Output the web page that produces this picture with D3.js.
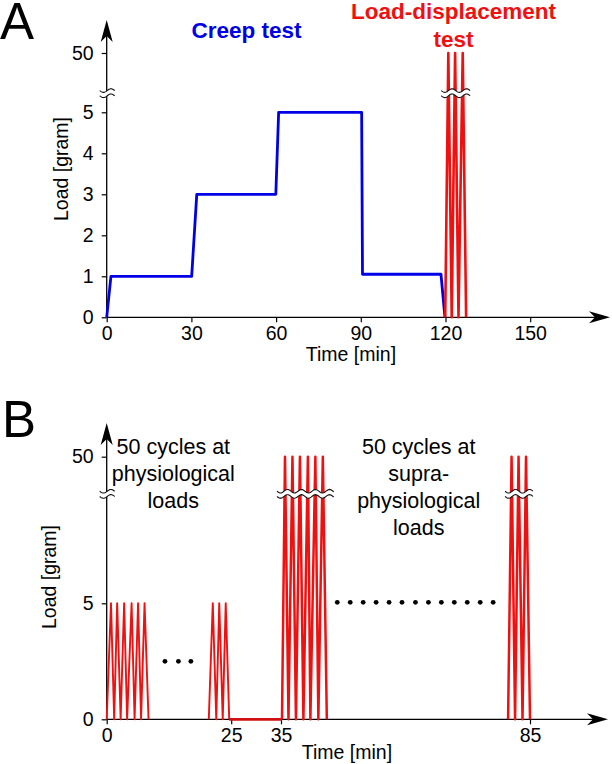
<!DOCTYPE html>
<html><head><meta charset="utf-8">
<script src="https://cdn.jsdelivr.net/npm/d3@7"></script>
<style>body{margin:0;background:#fff} svg{display:block} text{font-family:"Liberation Sans",Arial,sans-serif}</style>
</head><body><svg id="c" width="612" height="764"></svg>
<script>
// ---------- Panel A data ----------
const creepTime = [0, 1.5, 30.1, 31.9, 59.9, 60.9, 90.3, 90.6, 118.4, 119.8];
const creepLoad = [0, 1, 1, 3, 3, 5, 5, 1.05, 1.05, 0];
const ldTimeA = [119.9, 121.0, 122.2, 123.4, 124.6, 126.1, 127.3];
const ldLoadA = [0, 50, 0, 50, 0, 50, 0];
const xTicksA = [0, 30, 60, 90, 120, 150];
const yTicksA = [0, 1, 2, 3, 4, 5, 50];
const breakLoadA = 19.5;

// ---------- Panel B data ----------
const physTime1 = [0, 0.86, 1.5, 2.1, 2.8, 3.5, 4.1, 5.0, 5.6, 6.3, 6.9, 7.6, 8.4];
const physLoad1 = [0, 5, 0, 5, 0, 5, 0, 5, 0, 5, 0, 5, 0];
const physTime2 = [20.5, 21.3, 22.0, 22.6, 23.3, 23.9, 24.6];
const physLoad2 = [0, 5, 0, 5, 0, 5, 0];
const restTime = [24.6, 35.2];
const restLoad = [0, 0];
const supraTime1 = [35.2, 35.8, 36.5, 37.3, 38.0, 38.8, 39.5, 40.4, 40.9, 41.9, 42.5, 43.4, 44.2];
const supraLoad1 = [0, 50, 0, 50, 0, 50, 0, 50, 0, 50, 0, 50, 0];
const supraTime2 = [80.6, 81.3, 82.0, 82.7, 83.5, 84.2, 85.0];
const supraLoad2 = [0, 50, 0, 50, 0, 50, 0];
const dotsTime1 = [11.7, 14.4, 16.9];
const dotsLoad1 = [2.5, 2.5, 2.5];
const dotsTime2 = [46.3, 48.9, 51.5, 54.1, 56.7, 59.3, 62.0, 64.6, 67.2, 69.8, 72.4, 75.0, 77.6];
const dotsLoad2 = [5.3, 5.3, 5.3, 5.3, 5.3, 5.3, 5.3, 5.3, 5.3, 5.3, 5.3, 5.3, 5.3];
const xTicksB = [0, 25, 35, 85];
const yTicksB = [0, 5, 50];
const breakLoadB = 38.6;

const BLUE = "#0000e6", RED = "#f01010";
const FS = 19.5;
const svg = d3.select("#c");

function drawLine(g, x, y, ts, ls, color, w) {
  const line = d3.line().x(d => x(d[0])).y(d => y(d[1]));
  g.append("path").attr("d", line(d3.zip(ts, ls)))
    .attr("fill", "none").attr("stroke", color).attr("stroke-width", w)
    .attr("stroke-linejoin", "round").attr("stroke-linecap", "butt");
}

function wavy(g, x0, x1, yc, wl) {
  const n = 40, gap = 2.6, amp = 1.8;
  const up = [], lo = [];
  for (let i = 0; i <= n; i++) {
    const px = x0 + (x1 - x0) * i / n;
    const s = amp * Math.sin(2 * Math.PI * (px - x0) / wl);
    up.push([px, yc - gap + s]);
    lo.push([px, yc + gap + s]);
  }
  const poly = up.concat(lo.slice().reverse());
  g.append("path").attr("d", d3.line()(poly) + "Z").attr("fill", "#fff").attr("stroke", "none");
  [up, lo].forEach(p => g.append("path").attr("d", d3.line()(p))
    .attr("fill", "none").attr("stroke", "#111").attr("stroke-width", 1.1));
}

function arrowUp(g, x, ytip) {
  g.append("path").attr("d", `M${x},${ytip} L${x-6},${ytip+22} L${x},${ytip+16} L${x+6},${ytip+22} Z`).attr("fill", "#000");
}
function arrowRight(g, xtip, y) {
  g.append("path").attr("d", `M${xtip},${y} L${xtip-21},${y-6} L${xtip-15},${y} L${xtip-21},${y+6} Z`).attr("fill", "#000");
}

function axes(g, x, y, xt, yt, yTop, xEnd, brk) {
  const x0 = x.range()[0], y0 = y(0);
  g.append("line").attr("x1", x0).attr("x2", x0).attr("y1", y0).attr("y2", yTop + 10)
    .attr("stroke", "#000").attr("stroke-width", 1.3);
  arrowUp(g, x0, yTop);
  g.append("line").attr("x1", x0).attr("x2", xEnd - 10).attr("y1", y0).attr("y2", y0)
    .attr("stroke", "#000").attr("stroke-width", 1.3);
  arrowRight(g, xEnd, y0);
  const ay = g.append("g").attr("transform", `translate(${x0},0)`)
    .call(d3.axisLeft(y).tickValues(yt).tickSize(5).tickPadding(8).tickFormat(d3.format("d")));
  const ax = g.append("g").attr("transform", `translate(0,${y0})`)
    .call(d3.axisBottom(x).tickValues(xt).tickSize(5).tickPadding(4).tickFormat(d3.format("d")));
  [ay, ax].forEach(a => {
    a.select(".domain").remove();
    a.selectAll("line").attr("stroke", "#000").attr("stroke-width", 1.2);
    a.selectAll("text").attr("font-size", FS).attr("fill", "#000")
      .attr("font-family", '"Liberation Sans",Arial,sans-serif');
  });
  wavy(g, x0 - 7, x0 + 8, y(brk), 15);
}

// ---------- Panel A ----------
const xA = d3.scaleLinear().domain([0, 150]).range([106.7, 530.2]);
const yA = d3.scaleLinear().domain([0, 5, 50]).range([317.3, 112.3, 53]);
const gA = svg.append("g");
axes(gA, xA, yA, xTicksA, yTicksA, 20, 610, breakLoadA);
drawLine(gA, xA, yA, creepTime, creepLoad, BLUE, 2.8);
drawLine(gA, xA, yA, ldTimeA, ldLoadA, RED, 2.6);
wavy(gA, xA(d3.min(ldTimeA)) - 4, xA(d3.max(ldTimeA)) + 4, yA(breakLoadA), 14.5);

gA.append("text").text("A").attr("x", 0).attr("y", 39).attr("font-size", 51);
gA.append("text").text("Creep test").attr("x", 246.5).attr("y", 38).attr("text-anchor", "middle")
  .attr("font-size", 22.5).attr("font-weight", "bold").attr("fill", BLUE);
gA.append("text").text("Load-displacement").attr("x", 453.5).attr("y", 19).attr("text-anchor", "middle")
  .attr("font-size", 22.5).attr("font-weight", "bold").attr("fill", RED);
gA.append("text").text("test").attr("x", 453.5).attr("y", 46.5).attr("text-anchor", "middle")
  .attr("font-size", 22.5).attr("font-weight", "bold").attr("fill", RED);
gA.append("text").text("Time [min]").attr("x", 351).attr("y", 361).attr("text-anchor", "middle").attr("font-size", FS);
gA.append("text").text("Load [gram]").attr("transform", "translate(67.5,169) rotate(-90)")
  .attr("text-anchor", "middle").attr("font-size", FS);

// ---------- Panel B ----------
const xB = d3.scaleLinear().domain([0, 85]).range([106.7, 530]);
const yB = d3.scaleLinear().domain([0, 5, 50]).range([719.3, 603.3, 456.7]);
const gB = svg.append("g");
axes(gB, xB, yB, xTicksB, yTicksB, 423, 608, breakLoadB);
drawLine(gB, xB, yB, physTime1, physLoad1, RED, 1.9);
drawLine(gB, xB, yB, physTime2, physLoad2, RED, 1.9);
drawLine(gB, xB, yB, restTime, restLoad, "#d01010", 2.8);
drawLine(gB, xB, yB, supraTime1, supraLoad1, RED, 2.5);
drawLine(gB, xB, yB, supraTime2, supraLoad2, RED, 2.5);
wavy(gB, xB(d3.min(supraTime1)) - 5, xB(d3.max(supraTime1)) + 7, yB(breakLoadB), 14);
wavy(gB, xB(d3.min(supraTime2)) - 3, xB(d3.max(supraTime2)) + 3, yB(breakLoadB), 14);

gB.selectAll("circle.d1").data(d3.zip(dotsTime1, dotsLoad1)).join("circle").attr("class", "d1")
  .attr("cx", d => xB(d[0])).attr("cy", d => yB(d[1])).attr("r", 2.4).attr("fill", "#000");
gB.selectAll("circle.d2").data(d3.zip(dotsTime2, dotsLoad2)).join("circle").attr("class", "d2")
  .attr("cx", d => xB(d[0])).attr("cy", d => yB(d[1])).attr("r", 2.4).attr("fill", "#000");

gB.append("text").text("B").attr("x", 2).attr("y", 437).attr("font-size", 51);
[["50 cycles at", 454], ["physiological", 481], ["loads", 508]].forEach(([t, yy]) =>
  gB.append("text").text(t).attr("x", 173.3).attr("y", yy).attr("text-anchor", "middle").attr("font-size", 21.5));
[["50 cycles at", 454], ["supra-", 481], ["physiological", 508], ["loads", 535]].forEach(([t, yy]) =>
  gB.append("text").text(t).attr("x", 418.7).attr("y", yy).attr("text-anchor", "middle").attr("font-size", 21.5));
gB.append("text").text("Time [min]").attr("x", 347).attr("y", 758.5).attr("text-anchor", "middle").attr("font-size", FS);
gB.append("text").text("Load [gram]").attr("transform", "translate(55.5,577) rotate(-90)")
  .attr("text-anchor", "middle").attr("font-size", FS);
</script></body></html>
